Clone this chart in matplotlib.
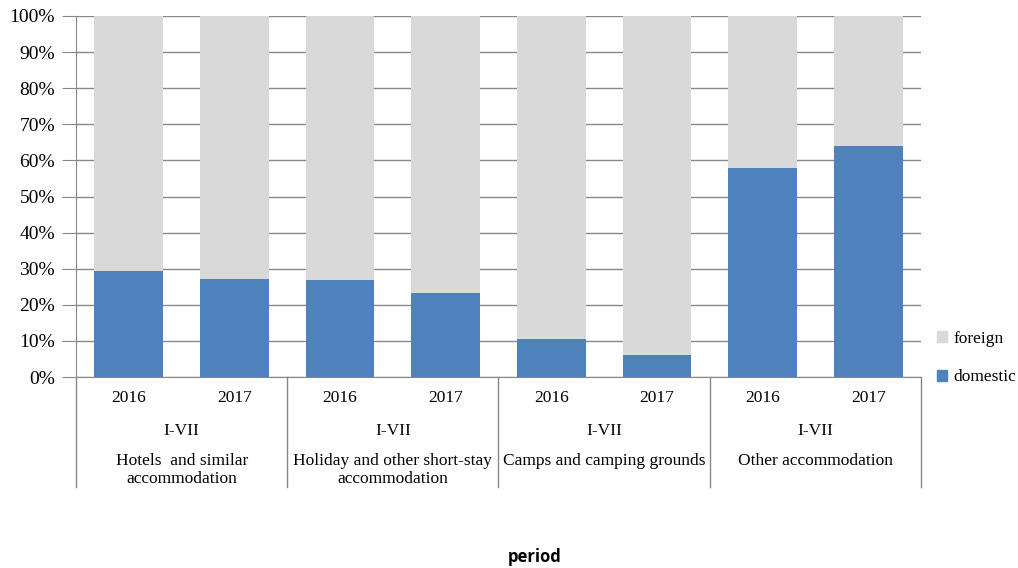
import numpy as np
import matplotlib.pyplot as plt
from matplotlib.lines import Line2D
from matplotlib.patches import Patch
from matplotlib.ticker import PercentFormatter

years = ["2016", "2017", "2016", "2017", "2016", "2017", "2016", "2017"]
period = "I-VII"
types = ["Hotels  and similar\naccommodation",
         "Holiday and other short-stay\naccommodation",
         "Camps and camping grounds",
         "Other accommodation"]
domestic = [29.3, 27.1, 26.8, 23.4, 10.5, 6.1, 57.8, 64.1]
foreign = [70.7, 72.9, 73.2, 76.6, 89.5, 93.9, 42.2, 35.9]

blue = "#4F81BD"
grey = "#D9D9D9"
axcol = "#888888"
serif = "Liberation Serif"

fig = plt.figure(figsize=(10.18, 5.68), dpi=100)
ax = fig.add_axes([76 / 1018, 191 / 568, 845 / 1018, 361 / 568])

x = np.arange(len(years))
ax.bar(x, domestic, width=0.65, color=blue, zorder=3)
ax.bar(x, foreign, width=0.65, bottom=domestic, color=grey, zorder=3)

ax.set_xlim(-0.5, len(years) - 0.5)
ax.set_ylim(0, 100)
ax.set_yticks(np.arange(0, 101, 10))
ax.yaxis.set_major_formatter(PercentFormatter(decimals=0))
ax.set_xticks([])
ax.grid(axis="y", color=axcol, linewidth=1, zorder=0)
for s in ["top", "right"]:
    ax.spines[s].set_visible(False)
ax.spines["left"].set_color(axcol)
ax.spines["bottom"].set_color(axcol)
ax.tick_params(axis="y", length=10, color=axcol, labelsize=14, pad=5)
for lab in ax.get_yticklabels():
    lab.set_family(serif)

# category axis below the plot
tr = ax.get_xaxis_transform()
for i, yr in enumerate(years):
    ax.text(i, -0.058, yr, transform=tr, ha="center", va="center",
            fontsize=12.5, family=serif)
for g in range(len(types)):
    c = 2 * g + 0.5
    ax.text(c, -0.15, period, transform=tr, ha="center", va="center",
            fontsize=12.5, family=serif)
    ax.text(c, -0.21, types[g], transform=tr, ha="center", va="top",
            fontsize=12.5, family=serif, linespacing=1.2)
for b in [-0.5, 1.5, 3.5, 5.5, 7.5]:
    ax.add_line(Line2D([b, b], [0, -0.305], transform=tr, color=axcol,
                       linewidth=1, clip_on=False))

fig.text(535 / 1018, 1 - 557 / 568, "period", ha="center", va="center",
         fontsize=12, fontweight="bold", family="Open Sans")

handles = [Patch(color=grey), Patch(color=blue)]
fig.legend(handles, ["foreign", "domestic"], loc="center left",
           bbox_to_anchor=(921 / 1018, 1 - 358 / 568), frameon=False,
           prop={"family": serif, "size": 12.5}, handlelength=0.6,
           handleheight=0.6, handletextpad=0.35, labelspacing=1.3)

fig.savefig("out.png", dpi=100)
